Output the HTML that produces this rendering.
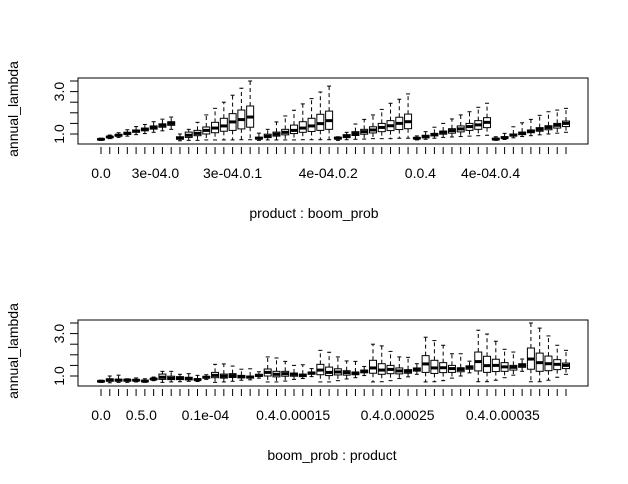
<!DOCTYPE html>
<html><head><meta charset="utf-8"><style>
html,body{margin:0;padding:0;background:#fff}
svg{display:block;font-family:"Liberation Sans",Arial,sans-serif}
</style></head><body>
<svg id="c" width="628" height="484" viewBox="0 0 628 484"></svg>
<script>
// Top panel (product : boom_prob) - 6 groups x 9 boxes
const medTop = [.75,.86,.94,1.03,1.14,1.22,1.31,1.41,1.50,
 .81,.94,1.03,1.17,1.28,1.38,1.57,1.68,1.80,
 .80,.89,.99,1.08,1.17,1.28,1.38,1.49,1.63,
 .80,.89,1.02,1.11,1.19,1.31,1.39,1.50,1.58,
 .80,.87,.97,1.08,1.16,1.24,1.35,1.43,1.55,
 .76,.83,.95,1.03,1.13,1.22,1.31,1.41,1.50];
const q1Top = [.73,.83,.90,.98,1.08,1.15,1.23,1.32,1.41,
 .75,.84,.92,1.00,1.06,1.13,1.17,1.24,1.32,
 .76,.83,.90,.96,1.02,1.08,1.12,1.17,1.22,
 .76,.83,.93,.99,1.05,1.11,1.16,1.21,1.25,
 .77,.82,.91,.99,1.04,1.10,1.17,1.22,1.30,
 .73,.80,.90,.97,1.06,1.13,1.20,1.28,1.35];
const q3Top = [.77,.89,.98,1.08,1.19,1.28,1.38,1.48,1.58,
 .87,1.09,1.17,1.33,1.55,1.74,1.96,2.13,2.32,
 .85,.99,1.09,1.22,1.42,1.58,1.74,1.93,2.08,
 .85,.97,1.11,1.22,1.34,1.50,1.63,1.79,1.94,
 .83,.94,1.03,1.14,1.25,1.38,1.50,1.63,1.77,
 .80,.87,1.00,1.09,1.19,1.30,1.39,1.50,1.61];
const hiTop = [.80,.95,1.06,1.20,1.35,1.45,1.58,1.70,1.80,
 1.00,1.22,1.55,1.90,2.21,2.50,2.83,3.16,3.50,
 1.04,1.22,1.57,1.85,2.12,2.42,2.67,2.98,3.26,
 .87,1.08,1.47,1.69,1.90,2.16,2.45,2.64,2.89,
 .91,1.11,1.32,1.50,1.71,1.90,2.05,2.26,2.45,
 .87,1.03,1.34,1.53,1.69,1.88,2.05,2.13,2.21];
const loTop = [.70,.78,.84,.90,.97,1.02,1.08,1.15,1.22,
 .68,.70,.70,.72,.72,.72,.72,.73,.73,
 .70,.72,.72,.72,.72,.73,.73,.73,.73,
 .70,.73,.75,.76,.78,.78,.78,.80,.80,
 .72,.75,.80,.84,.86,.88,.90,.92,.94,
 .70,.74,.82,.88,.92,.96,1.00,1.04,1.08];
const nGroups = 6, nPerGroup = 9;
const yTicks = [1.0,1.5,2.0,2.5,3.0,3.5];
const yTickLabels = ["1.0","","","","3.0",""];
const topLabels = [["0.0",0],["3e-04.0",6.2],["3e-04.0.1",15],["4e-04.0.2",25.9],["0.0.4",36.4],["4e-04.0.4",44.4]];
const botLabels = [["0.0",0],["0.5.0",4.6],["0.1e-04",11.9],["0.4.0.00015",21.9],["0.4.0.00025",33.8],["0.4.0.00035",45.8]];

const NS="http://www.w3.org/2000/svg", svg=document.getElementById('c');
function mk(t,a,p){const e=document.createElementNS(NS,t);for(const k in a)e.setAttribute(k,a[k]);(p||svg).appendChild(e);return e;}

function panel(name, order, frame, xTitle, labels){
  const g=mk('g',{});
  
  
  const n=order.length, x0=101, step=(566-x0)/(n-1);
  const Y=v=>frame.v1-(v-1)*(frame.v1-frame.v35)/2.5;
  const X=i=>x0+i*step;
  const fr=mk('rect',{x:78,y:frame.top,width:510,height:frame.bot-frame.top,fill:'none',stroke:'#000','stroke-width':1},g);
  
  
  yTicks.forEach((t,k)=>{
    const y=Y(t);
    const tk=mk('line',{x1:70,x2:78,y1:y,y2:y,stroke:'#000'},g);
    
    
    if(yTickLabels[k]){
      const tl=mk('text',{x:64,y:y,transform:`rotate(-90 64 ${y})`,'text-anchor':'middle','font-size':14},g);
      tl.textContent=yTickLabels[k];
      
      
    }
  });
  order.forEach((idx,i)=>{
    const x=X(i), w=3.5;
    const b=mk('g',{},g);
    
    
    mk('line',{x1:x,x2:x,y1:Y(q3Top[idx]),y2:Y(hiTop[idx]),stroke:'#000','stroke-dasharray':'4,3'},b);
    mk('line',{x1:x,x2:x,y1:Y(q1Top[idx]),y2:Y(loTop[idx]),stroke:'#000','stroke-dasharray':'4,3'},b);
    mk('line',{x1:x-2,x2:x+2,y1:Y(hiTop[idx]),y2:Y(hiTop[idx]),stroke:'#000'},b);
    mk('line',{x1:x-2,x2:x+2,y1:Y(loTop[idx]),y2:Y(loTop[idx]),stroke:'#000'},b);
    mk('rect',{x:x-w,y:Y(q3Top[idx]),width:2*w,height:Math.max(0.5,Y(q1Top[idx])-Y(q3Top[idx])),fill:'#fff',stroke:'#000'},b);
    mk('line',{x1:x-w,x2:x+w,y1:Y(medTop[idx]),y2:Y(medTop[idx]),stroke:'#000','stroke-width':3},b);
    const tk=mk('line',{x1:x,x2:x,y1:frame.bot+3,y2:frame.bot+10,stroke:'#000'},g);
    
    
  });
  labels.forEach(([s,p])=>{
    const t=mk('text',{x:X(p),y:frame.bot+34,'text-anchor':'middle','font-size':14},g);
    t.textContent=s;
    
    
  });
  const xt=mk('text',{x:frame.xtx,y:frame.bot+74,'text-anchor':'middle','font-size':14},g);
  xt.textContent=xTitle;
  
  
  const yc=(frame.top+frame.bot)/2 - 2;
  const yt=mk('text',{x:18,y:yc,transform:`rotate(-90 18 ${yc})`,'text-anchor':'middle','font-size':14},g);
  yt.textContent='annual_lambda';
  
  
}
const topOrder=[], botOrder=[];
for(let gI=0;gI<nGroups;gI++)for(let j=0;j<nPerGroup;j++)topOrder.push(gI*nPerGroup+j);
for(let j=0;j<nPerGroup;j++)for(let gI=0;gI<nGroups;gI++)botOrder.push(gI*nPerGroup+j);
panel('top-panel',topOrder,{top:78,bot:144,v1:134,v35:81,xtx:314},'product : boom_prob',topLabels);
panel('bottom-panel',botOrder,{top:320,bot:386,v1:376,v35:323,xtx:332},'boom_prob : product',botLabels);
</script>
</body></html>
